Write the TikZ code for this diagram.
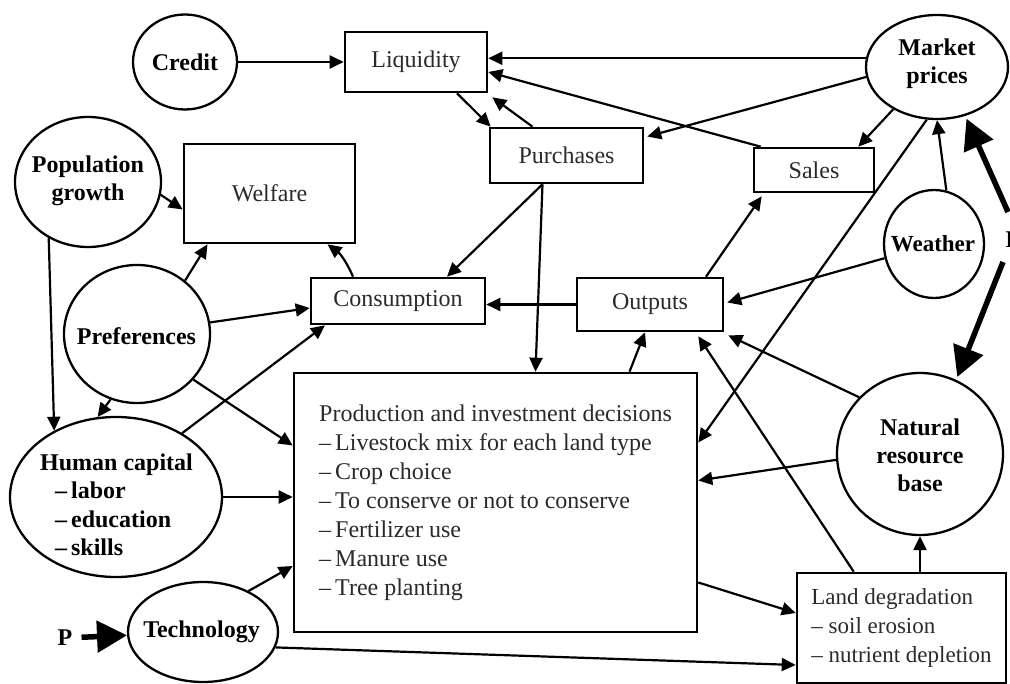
\documentclass[tikz,border=0pt]{standalone}
\usepackage{fontspec}
\setmainfont{Liberation Serif}
\usetikzlibrary{shapes.geometric,arrows.meta,calc}
\definecolor{txtgray}{HTML}{2A2A2A}
\begin{document}
\begin{tikzpicture}[x=1pt,y=-1pt,
  every node/.style={inner sep=0pt},
  bx/.style={draw, line width=2.6pt, font=\fontsize{24}{29}\selectfont, text=txtgray},
  el/.style={draw, ellipse, line width=2.3pt},
  bt/.style={font=\bfseries\fontsize{24}{28}\selectfont, align=center},
  arr/.style={-{Triangle[length=14pt,width=13pt]}, line width=2.2pt},
  big/.style={-{Triangle[length=30pt,width=31pt]}, line width=5.5pt}]

\useasboundingbox (0,0) rectangle (1010,684);

% ellipses
\node[el, minimum width=104pt, minimum height=95pt] (credit) at (185,62) {};
\node[bt] (creditT) at (credit) {Credit};
\node[el, minimum width=142pt, minimum height=104pt] (mp) at (937,67) {};
\node[bt] (mpT) at (937,64) {Market\\prices};
\node[el, minimum width=146pt, minimum height=130pt] (pop) at (88,182) {};
\node[bt] (popT) at (88,181) {Population\\growth};
\node[el, minimum width=100pt, minimum height=108pt] (weather) at (934,244) {};
\node[bt, font=\bfseries\fontsize{23}{26}\selectfont] (weatherT) at (933,244) {Weather};
\node[el, minimum width=146pt, minimum height=138pt] (pref) at (137,334) {};
\node[bt] (prefT) at (136.5,336) {Preferences};
\node[el, minimum width=212pt, minimum height=160pt] (hc) at (116,497) {};
\node[bt, align=left, font=\bfseries\fontsize{24}{28.5}\selectfont] (hcT) at (116.5,505) {Human capital\\\hspace*{15pt}–\,labor\\\hspace*{15pt}–\,education\\\hspace*{15pt}–\,skills};
\node[el, minimum width=166pt, minimum height=162pt] (nrb) at (920,454) {};
\node[bt] (nrbT) at (920,455) {Natural\\resource\\base};
\node[el, minimum width=150pt, minimum height=100pt] (tech) at (203,632) {};
\node[bt] (techT) at (201.5,632) {Technology};
\node[bt] (pl) at (65,638) {P};
\node[bt] (pr) at (1013,240) {P};

% boxes
\node[bx, minimum width=142pt, minimum height=60pt] (liq) at (416,62) {Liquidity};
\node[bx, minimum width=153pt, minimum height=55pt] (pur) at (566.5,155.5) {Purchases};
\node[bx, minimum width=120pt, minimum height=44pt] (sales) at (814,170) {Sales};
\node[bx, minimum width=171pt, minimum height=99pt] (welf) at (269.5,193.5) {Welfare};
\node[bx, minimum width=174pt, minimum height=46pt] (cons) at (398,301) {Consumption};
\node[bx, minimum width=146pt, minimum height=53pt] (out) at (650,304.5) {Outputs};
\node[bx, minimum width=403pt, minimum height=259pt, align=left] (prod) at (495.5,502.5)
  {Production and investment decisions\\–\,Livestock mix for each land type\\–\,Crop choice\\–\,To conserve or not to conserve\\–\,Fertilizer use\\–\,Manure use\\–\,Tree planting};
\node[bx, minimum width=209pt, minimum height=110pt, align=left, font=\fontsize{23}{29}\selectfont] (land) at (901.5,628)
  {Land degradation\\– soil erosion\\– nutrient depletion};

% connectors
\draw[arr] (credit) -- (liq);
\draw[arr] (mp.173) -- (mp.173 -| liq.east);
\draw[arr] ([xshift=8pt]sales.north west) -- ([yshift=-10pt]liq.east);
\draw[arr] ([xshift=41pt]liq.south) -- ([xshift=2pt]pur.north west);
\draw[arr] ([xshift=-34pt]pur.north) -- ([shift={(4pt,-4pt)}]liq.south east);
\draw[arr] (mp.188) -- ([shift={(3pt,19pt)}]pur.east);
\draw[arr] (mp.224) -- ([xshift=-17pt]sales.north east);
\draw[arr] (mp.259) -- ([yshift=60pt]prod.east);
\draw[arr] (weather.77) -- (mp.south);
\draw[arr] (weather.196) -- ([shift={(3pt,2pt)}]out.east);
\draw[arr] ([xshift=56pt]out.north) -- ([shift={(9pt,-3pt)}]sales.south west);
\draw[arr] (out.west) -- (out.west -| cons.east);
\draw[arr] ([xshift=-24pt]pur.south) -- ([xshift=49pt]cons.north);
\draw[arr] ([xshift=-24pt]pur.south) -- ([xshift=40pt]prod.north);
\draw[arr] ([xshift=134pt]prod.north) -- ([xshift=-5pt]out.south);
\draw[arr] (nrb.137) -- ([shift={(4pt,-3pt)}]out.south east);
\draw[arr] ([xshift=58pt]land.north west) -- ([shift={(-26pt,-4pt)}]out.south east);
\draw[arr] (nrb.184) -- ([yshift=22pt]prod.east);
\draw[arr] (nrb.south |- land.north) -- (nrb.south);
\draw[arr] ([yshift=-80pt]prod.east) -- ([yshift=15pt]land.west);
\draw[arr] (tech.-12) -- ([yshift=-37pt]land.west);
\draw[arr] (tech.42) -- ([yshift=-63.5pt]prod.west);
\draw[arr] (hc.east) -- (hc.east -| prod.west);
\draw[arr] (hc.44) -- ([xshift=-73pt]cons.south);
\draw[arr] (pref.-39) -- ([yshift=57pt]prod.west);
\draw[arr] (pref.9) -- ([yshift=-7pt]cons.west);
\draw[arr] (pref.248) -- (hc.103);
\draw[arr] (pref.48) -- ([xshift=-62pt]welf.south);
\draw[arr] ([xshift=-45pt]cons.north) to[bend right=15] ([xshift=58pt]welf.south);
\draw[arr] (pop.-10) -- ([yshift=-16pt]welf.west);
\draw[arr] (pop.235) -- (hc.133);

\draw[big, shorten <=9pt] (pl) -- (tech);
\coordinate (pr1) at (1008,212);
\coordinate (pr2) at (1003,262);
\draw[big, shorten >=3pt] (pr1) -- (mp.-60);
\draw[big, shorten >=3pt] (pr2) -- (nrb.64);
\end{tikzpicture}
\end{document}
